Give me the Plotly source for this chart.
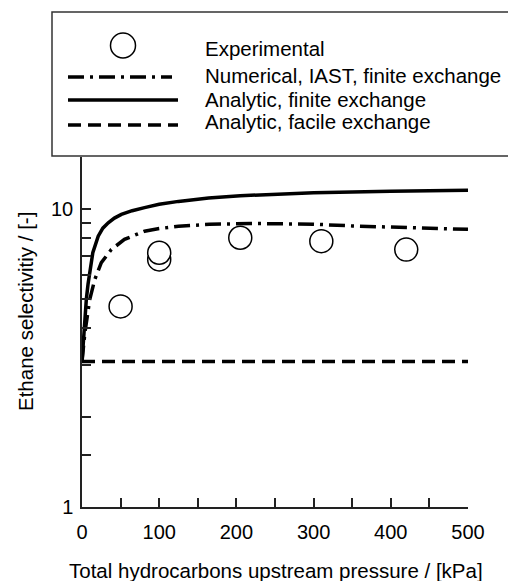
import plotly.graph_objects as go

# ---- data ----
exp_p = [50, 100, 100, 205, 310, 420]
exp_s = [4.72, 6.79, 7.15, 8.03, 7.82, 7.33]

num_p = [0, 1.5, 3.5, 5.6, 10, 16.5, 25, 38, 55, 81, 100, 125, 165, 218, 260, 300, 350, 434, 500]
num_s = [3.08, 3.46, 3.8, 4.15, 4.98, 5.81, 6.62, 7.33, 7.93, 8.45, 8.62, 8.78, 8.91, 8.97, 8.97, 8.92, 8.8, 8.65, 8.57]

fin_p = [0, 1.2, 2.6, 4, 5.6, 7.8, 10, 14, 21, 27, 34, 42, 51, 65, 81, 100, 125, 164, 205, 250, 300, 400, 500]
fin_s = [3.08, 3.5, 3.94, 4.45, 4.98, 5.6, 6.12, 7.15, 8.13, 8.65, 9.02, 9.35, 9.62, 9.9, 10.14, 10.4, 10.64, 10.92, 11.12, 11.27, 11.37, 11.5, 11.6]

fac_p = [0, 500]
fac_s = [3.08, 3.08]

x_ticks = [0, 100, 200, 300, 400, 500]
y_ticks = [1, 10]
y_minor = [1.5, 2, 3, 4, 5, 6, 7, 8, 9, 15]

legend_names = ["Experimental", "Numerical, IAST, finite exchange",
                "Analytic, finite exchange", "Analytic, facile exchange"]
x_title = "Total hydrocarbons upstream pressure / [kPa]"
y_title = "Ethane selectivitiy / [-]"

FONT = "Liberation Sans, Arial, sans-serif"
FS = 20.5
W, H = 508, 581
L, R, T, B = 82, 40, 157, 74
PW, PH = W - L - R, H - T - B
DASHDOT = "16px,6px,3px,6px"
DASH = "13px,7px"

fig = go.Figure()
fig.add_trace(go.Scatter(x=fac_p, y=fac_s, mode="lines", name=legend_names[3],
                         line=dict(color="black", width=3.5, dash=DASH)))
fig.add_trace(go.Scatter(x=num_p, y=num_s, mode="lines", name=legend_names[1],
                         line=dict(color="black", width=3.5, dash=DASHDOT)))
fig.add_trace(go.Scatter(x=fin_p, y=fin_s, mode="lines", name=legend_names[2],
                         line=dict(color="black", width=3.5)))
fig.add_trace(go.Scatter(x=exp_p, y=exp_s, mode="markers", name=legend_names[0],
                         marker=dict(symbol="circle", size=23, color="white",
                                     line=dict(color="black", width=1.5))))

# ---- hand-drawn legend box (pixel -> paper helpers) ----
def px(xp):
    return (xp - L) / PW

def py(yp):
    return (H - B - yp) / PH

shapes = [
    dict(type="rect", xref="paper", yref="paper", x0=px(52), x1=px(560), y0=py(156), y1=py(12),
         line=dict(color="#333", width=1.5), fillcolor="white", layer="above"),
    dict(type="circle", xref="paper", yref="paper", x0=px(110.5), x1=px(135.5), y0=py(58), y1=py(33),
         line=dict(color="black", width=1.5), fillcolor="white", layer="above"),
    dict(type="line", xref="paper", yref="paper", x0=px(68), x1=px(172), y0=py(77), y1=py(77),
         line=dict(color="black", width=3.5, dash=DASHDOT), layer="above"),
    dict(type="line", xref="paper", yref="paper", x0=px(68), x1=px(178), y0=py(100), y1=py(100),
         line=dict(color="black", width=3.5), layer="above"),
    dict(type="line", xref="paper", yref="paper", x0=px(68), x1=px(178), y0=py(125), y1=py(125),
         line=dict(color="black", width=3.5, dash=DASH), layer="above"),
]
ann_y = [48, 76, 99, 122]
annotations = [dict(xref="paper", yref="paper", x=px(203), y=py(yy), text=t, showarrow=False,
                    xanchor="left", yanchor="middle", font=dict(family=FONT, size=FS, color="black"))
               for t, yy in zip(legend_names, ann_y)]
annotations.append(dict(xref="paper", yref="paper", x=px(276), y=py(570), text=x_title, showarrow=False,
                        xanchor="center", yanchor="middle", font=dict(family=FONT, size=FS, color="black")))
annotations.append(dict(xref="paper", yref="paper", x=px(25), y=py(312), text=y_title, showarrow=False,
                        textangle=-90, xanchor="center", yanchor="middle",
                        font=dict(family=FONT, size=FS, color="black")))

fig.update_layout(
    width=W, height=H, margin=dict(l=L, r=R, t=T, b=B),
    paper_bgcolor="white", plot_bgcolor="white", showlegend=False,
    font=dict(family=FONT, color="black"),
    shapes=shapes, annotations=annotations,
    xaxis=dict(range=[0, 500], tickvals=x_ticks, ticks="inside", ticklen=9, tickwidth=1.5,
               tickcolor="#222", showline=True, linecolor="#222", linewidth=1.5,
               showgrid=False, zeroline=False, tickfont=dict(size=20), ticklabelstandoff=6,
               minor=dict(dtick=50, ticks="inside", ticklen=9, tickwidth=1.5, tickcolor="#222", showgrid=False)),
    yaxis=dict(type="log", range=[0, 1.1761], tickvals=y_ticks, ticktext=["1", "10"], ticks="inside",
               ticklen=9, tickwidth=1.5, tickcolor="#222", showline=True, linecolor="#222", linewidth=1.5,
               showgrid=False, zeroline=False, tickfont=dict(size=20), ticklabelstandoff=3,
               minor=dict(tickvals=y_minor, ticks="inside", ticklen=9, tickwidth=1.5, tickcolor="#222", showgrid=False)),
)

fig.write_html("out.html", config={"displayModeBar": False},
               post_script="document.body.style.margin='0px';")
